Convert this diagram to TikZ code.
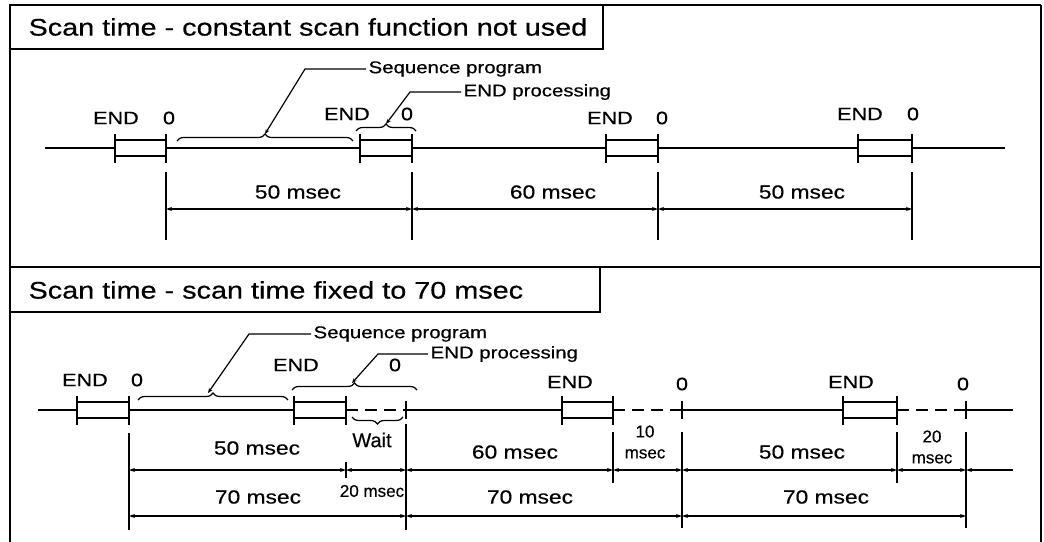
\documentclass[tikz,border=0pt]{standalone}
\usepackage{fontspec}
\setmainfont{Liberation Sans}[FakeBold=0.4]
\newfontfamily\widefont[FakeStretch=1.2, FakeBold=0.5]{Liberation Sans}
\usetikzlibrary{arrows.meta,decorations.pathreplacing}
\tikzset{
  ttl/.style={font=\widefont\fontsize{24}{24}\selectfont, anchor=west, inner sep=0pt},
  evt/.style={font=\widefont\fontsize{18}{18}\selectfont, inner sep=0pt},
  dur/.style={font=\widefont\fontsize{19}{19}\selectfont, inner sep=0pt},
  narrow/.style={font=\fontsize{17}{21}\selectfont, inner sep=0pt, align=center},
  note/.style={font=\widefont\fontsize{17}{17}\selectfont, inner sep=0pt, anchor=west},
  tip/.style={-{Stealth[length=5pt,width=4pt]}},
  dim/.style={{Stealth[length=6pt,width=4pt]}-{Stealth[length=6pt,width=4pt]}},
  brc/.style={decorate, decoration={brace, amplitude=7pt}},
  wait/.style={dash pattern=on 12pt off 7pt},
}
\begin{document}
\begin{tikzpicture}[x=1pt, y=-1pt, line width=1.2pt]
\useasboundingbox (0,0) rectangle (1044,541);
\draw[line width=2pt] (1041,5) -- (10,5) -- (10,545);
\draw (1041,5) -- (1041,545);
\draw[line width=2pt] (10,267) -- (1041,267);
\draw[line width=1.6pt] (10,5) rectangle (603,49);
\node[ttl] (ttlA) at (28,27) {Scan time - constant scan function not used};
\draw[line width=1.6pt] (10,267) rectangle (600,312);
\node[ttl] (ttlB) at (28,290) {Scan time - scan time fixed to 70 msec};

\draw[line width=1.4pt] (45,148) -- (1005,148);
\foreach \a/\b/\n in {115/166/1, 360/412/2, 606/658/3, 858/912/4} {
  \draw[line width=1.4pt, fill=white] (\a,140) rectangle (\b,156);
  \draw[line width=1.4pt] (\a,134) -- (\a,163) (\b,134) -- (\b,163);
  \draw (\b,172) -- (\b,240);
  \coordinate (pa\n) at (\b,209);
}
\draw[dim] (pa1) -- (pa2);
\draw[dim] (pa2) -- (pa3);
\draw[dim] (pa3) -- (pa4);
\node[dur] (durA1) at (298,192) {50 msec};
\node[dur] (durA2) at (553,192) {60 msec};
\node[dur] (durA3) at (802,192) {50 msec};
\node[evt] (endA1) at (116,118) {END};
\node[evt] (zeroA1) at (169,118) {0};
\node[evt] (endA2) at (347,114) {END};
\node[evt] (zeroA2) at (407,114) {0};
\node[evt] (endA3) at (610,118) {END};
\node[evt] (zeroA3) at (662,118) {0};
\node[evt] (endA4) at (860,114) {END};
\node[evt] (zeroA4) at (913,114) {0};
\draw[brc] (177,141) -- (353,141);
\draw[brc] (356,131) -- (416,131);
\coordinate (seqAtip) at (265,134);
\coordinate (epAtip) at (386,124);
\node[note] (seqA) at (368,69) {Sequence program};
\node[note] (epA) at (463,92) {END processing};
\draw[tip] ([xshift=-2pt]seqA.west) -- ++(-61,0) -- (seqAtip);
\draw[tip] ([xshift=-2pt]epA.west) -- ++(-51,0) -- (epAtip);

\draw[line width=1.4pt] (38,410) -- (346,410);
\draw[line width=1.4pt, wait] (346,410) -- (406,410);
\draw[line width=1.4pt] (406,410) -- (613,410);
\draw[line width=1.4pt, wait] (613,410) -- (682,410);
\draw[line width=1.4pt] (682,410) -- (897,410);
\draw[line width=1.4pt, wait] (897,410) -- (966,410);
\draw[line width=1.4pt] (966,410) -- (1013,410);
\foreach \a/\b in {77/129, 294/346, 562/613, 843/897} {
  \draw[line width=1.4pt, fill=white] (\a,402) rectangle (\b,418);
  \draw[line width=1.4pt] (\a,396) -- (\a,425) (\b,396) -- (\b,425);
}
\foreach \x in {406, 682, 966}
  \draw[line width=1.4pt] (\x,401) -- (\x,419);
\foreach \x/\n/\t/\u in {129/1/433/530, 346/2/462/478, 406/3/424/530, 613/4/432/483, 682/5/432/528, 897/6/432/483, 966/7/432/528, 1013/8/470/470} {
  \draw (\x,\t) -- (\x,\u);
  \coordinate (hi\n) at (\x,470);
  \coordinate (lo\n) at (\x,516);
}
\foreach \i/\j in {1/2, 2/3, 3/4, 4/5, 5/6, 6/7}
  \draw[dim] (hi\i) -- (hi\j);
\draw[{Stealth[length=6pt,width=4pt]}-] (hi7) -- (hi8);
\draw[dim] (lo1) -- (lo3);
\draw[dim] (lo3) -- (lo5);
\draw[dim] (lo5) -- (lo7);
\node[evt] (endB1) at (85,380) {END};
\node[evt] (zeroB1) at (137,380) {0};
\node[evt] (endB2) at (296,365) {END};
\node[evt] (zeroB2) at (395,365) {0};
\node[evt] (endB3) at (570,382) {END};
\node[evt] (zeroB3) at (682,384) {0};
\node[evt] (endB4) at (851,382) {END};
\node[evt] (zeroB4) at (963,384) {0};
\draw[brc] (138,400) -- (288,400);
\draw[brc] (292,390) -- (417,390);
\draw[brc] (403,417) -- (352,417);
\coordinate (seqBtip) at (208,393);
\coordinate (epBtip) at (352,383);
\node[note] (seqB) at (313,334) {Sequence program};
\node[note] (epB) at (430,354) {END processing};
\draw[tip] ([xshift=-2pt]seqB.west) -- ++(-62,0) -- (seqBtip);
\draw[tip] ([xshift=-2pt]epB.west) -- ++(-50,0) -- (epBtip);
\node[font=\fontsize{20}{20}\selectfont, inner sep=0pt] (waitB) at (372,440) {Wait};
\node[dur] (durB1) at (257,448) {50 msec};
\node[dur] (durB2) at (515,452) {60 msec};
\node[narrow] (durB3) at (645,442) {10\\msec};
\node[dur] (durB4) at (802,452) {50 msec};
\node[narrow] (durB5) at (932,447) {20\\msec};
\node[dur] (cycB1) at (258,497) {70 msec};
\node[narrow] (cycB2) at (372,491) {20 msec};
\node[dur] (cycB3) at (530,497) {70 msec};
\node[dur] (cycB4) at (826,497) {70 msec};
\end{tikzpicture}
\end{document}
